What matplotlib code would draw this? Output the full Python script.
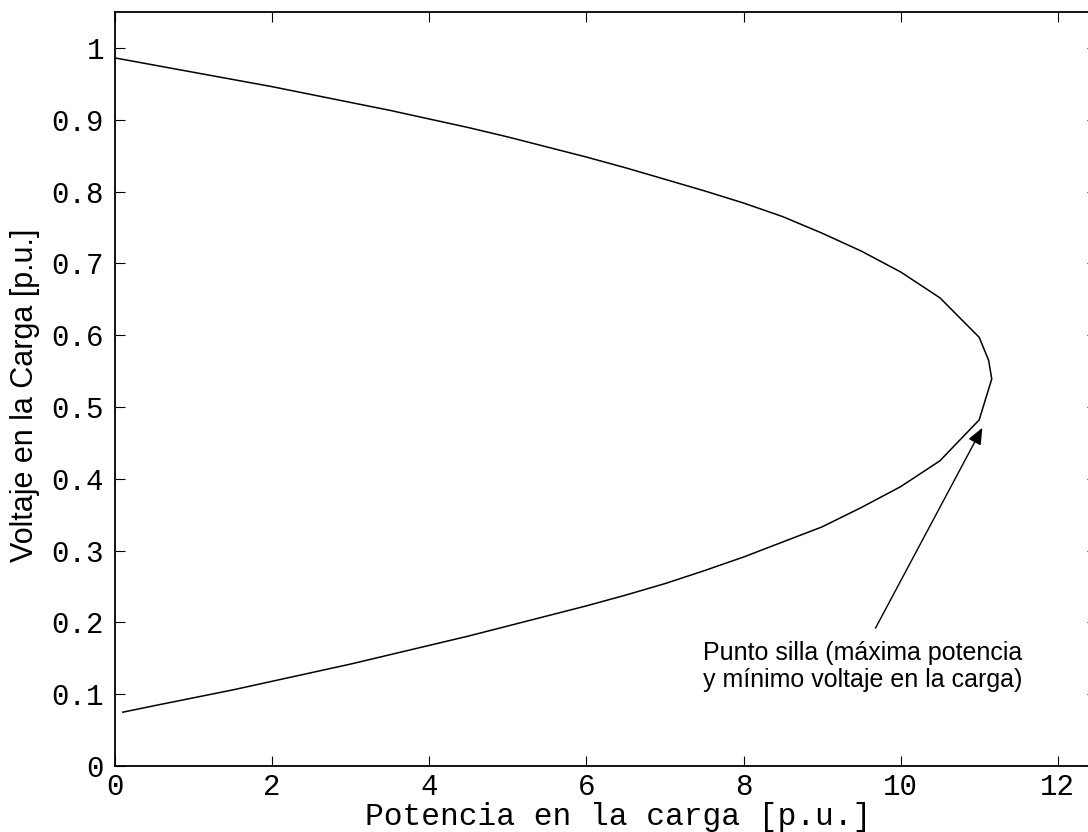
import matplotlib
matplotlib.use("Agg")
import matplotlib.pyplot as plt

# Upper branch (high-voltage solution), P in p.u. and V in p.u.
p_upper = [0.0, 0.5, 1.0, 1.5, 2.0, 2.5, 3.0, 3.5, 4.0, 4.5, 5.0, 5.5, 6.0,
           6.5, 7.0, 7.5, 8.0, 8.5, 9.0, 9.5, 10.0, 10.5, 11.0, 11.12, 11.16]
v_upper = [0.986, 0.976, 0.966, 0.956, 0.946, 0.935, 0.924, 0.913, 0.901,
           0.889, 0.876, 0.862, 0.848, 0.833, 0.817, 0.801, 0.784, 0.765,
           0.742, 0.717, 0.688, 0.652, 0.597, 0.565, 0.539]

# Lower branch (low-voltage solution)
p_lower = [11.0, 10.5, 10.0, 9.5, 9.0, 8.5, 8.0, 7.5, 7.0, 6.5, 6.0, 5.5, 5.0,
           4.5, 4.0, 3.5, 3.0, 2.5, 2.0, 1.5, 1.0, 0.5, 0.1]
v_lower = [0.482, 0.425, 0.389, 0.360, 0.333, 0.312, 0.291, 0.272, 0.254,
           0.238, 0.223, 0.209, 0.195, 0.181, 0.168, 0.155, 0.142, 0.130,
           0.118, 0.106, 0.095, 0.084, 0.075]

x_ticks = [0, 2, 4, 6, 8, 10, 12]
y_ticks = [0, 0.1, 0.2, 0.3, 0.4, 0.5, 0.6, 0.7, 0.8, 0.9, 1.0]
y_tick_labels = ["0", "0.1", "0.2", "0.3", "0.4", "0.5", "0.6", "0.7", "0.8", "0.9", "1"]

annot_text = "Punto silla (máxima potencia\ny mínimo voltaje en la carga)"
arrow_tip = (11.04, 0.471)
text_pos = (7.48, 0.138)
arrow_tail = (9.68, 0.192)

fig = plt.figure(figsize=(10.88, 8.32), dpi=100)
ax = fig.add_axes([0.1057, 0.0793, 0.9026, 0.9063])

ax.plot(p_upper + p_lower, v_upper + v_lower, color="black", linewidth=1.1)

ax.set_xlim(0, 12.5)
ax.set_ylim(0, 1.05)
ax.set_xticks(x_ticks)
ax.set_xticklabels([str(t) for t in x_ticks])
ax.set_yticks(y_ticks)
ax.set_yticklabels(y_tick_labels)

mono = "Liberation Mono"
sans = "Liberation Sans"
for lab in ax.get_xticklabels() + ax.get_yticklabels():
    lab.set_fontfamily(mono)
    lab.set_fontsize(21)

ax.tick_params(direction="in", top=True, right=True, length=7.2, width=0.8,
               pad=8)
ax.tick_params(axis="x", pad=5)
for sp in ax.spines.values():
    sp.set_linewidth(1.3)

ax.set_xlabel("Potencia en la carga [p.u.]", fontfamily=mono, fontsize=22.5)
ax.set_ylabel("Voltaje en la Carga [p.u.]", fontfamily=sans, fontsize=22)
ax.xaxis.set_label_coords(0.512, -0.048)
ax.yaxis.set_label_coords(-0.076, 0.492)

ax.annotate("", xy=arrow_tip, xytext=arrow_tail,
            arrowprops=dict(arrowstyle="-|>,head_length=1.0,head_width=0.42",
                            color="black", linewidth=1.0, shrinkA=0, shrinkB=0))
ax.text(text_pos[0], text_pos[1], annot_text, fontfamily=sans, fontsize=18,
        ha="left", va="center", linespacing=1.15)

fig.savefig("out.png", dpi=100)
